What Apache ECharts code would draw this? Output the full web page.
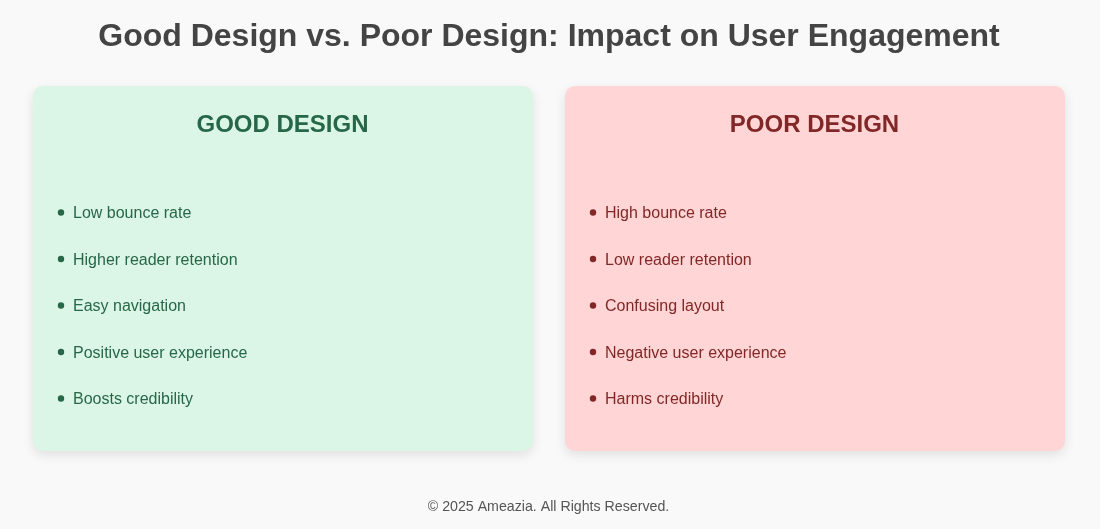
<!DOCTYPE html>
<html><head><meta charset="utf-8">
<style>html,body{margin:0;padding:0;background:#f9f9f9}#c{width:1100px;height:529px}</style>
<script src="https://cdn.jsdelivr.net/npm/echarts@6/dist/echarts.min.js"></script>
</head><body><div id="c"></div>
<script>
const chartTitle = "Good Design vs. Poor Design: Impact on User Engagement";
const goodHeading = "GOOD DESIGN";
const poorHeading = "POOR DESIGN";
const goodItems = ["Low bounce rate","Higher reader retention","Easy navigation","Positive user experience","Boosts credibility"];
const poorItems = ["High bounce rate","Low reader retention","Confusing layout","Negative user experience","Harms credibility"];
const footerText = "\u00a9 2025 Ameazia. All Rights Reserved.";

const FONT = '"Liberation Sans", Arial, sans-serif';
const rowY = [214, 260.5, 307, 353.5, 400];
function card(x, heading, items, fill, color) {
  const els = [
    {type:'rect', shape:{x:x,y:86,width:500,height:365,r:10},
     style:{fill:fill,shadowColor:'rgba(0,0,0,0.1)',shadowBlur:12,shadowOffsetY:4}},
    {type:'text', x:x+249.5, y:125.5, style:{text:heading,fill:color,font:'bold 24px '+FONT,align:'center',verticalAlign:'middle'}}
  ];
  items.forEach((t,i)=>{
    els.push({type:'circle', shape:{cx:x+28,cy:rowY[i]-1.5,r:3.2}, style:{fill:color}});
    els.push({type:'text', x:x+40, y:rowY[i], style:{text:t,fill:color,font:'16px '+FONT,align:'left',verticalAlign:'middle'}});
  });
  return els;
}
const chart = echarts.init(document.getElementById('c'), null, {renderer:'canvas'});
chart.setOption({
  backgroundColor:'#f9f9f9',
  animation:false,
  graphic:{elements:[
    {type:'text', x:549, y:37, style:{text:chartTitle,fill:'#444444',font:'bold 32px '+FONT,align:'center',verticalAlign:'middle'}},
    ...card(33, goodHeading, goodItems, '#dbf5e6', '#276749'),
    ...card(565, poorHeading, poorItems, '#ffd5d5', '#822727'),
    {type:'text', x:548.5, y:507, style:{text:footerText,fill:'#555555',font:'14.2px '+FONT,align:'center',verticalAlign:'middle'}}
  ]}
});
</script></body></html>
